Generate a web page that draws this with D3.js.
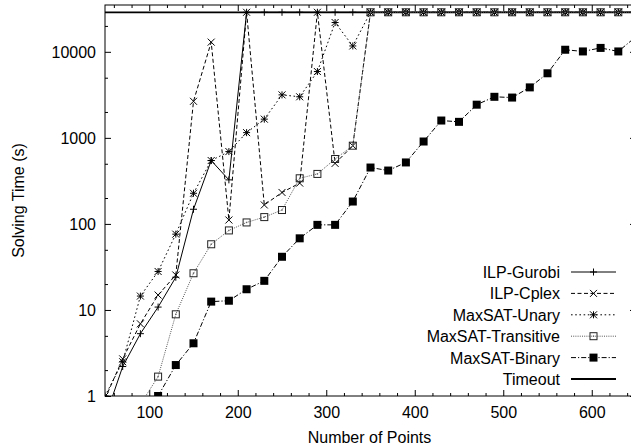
<head>
	<meta charset="utf-8">
	<script src="https://cdn.jsdelivr.net/npm/d3@7"></script>
	<style>
		body { margin: 0; background: #fff; }
		text { font-family: "Liberation Sans", Arial, Helvetica, sans-serif; font-size: 16px; fill: #000; }
	</style>
</head>
<body>
	<div id="main_div"></div>
	<script>
	// values, seconds; T = timeout (8h)
	var T = 28800;
	var points = [50,70,90,110,130,150,170,190,210,230,250,270,290,310,330,350,370,390,410,430,450,470,490,510,530,550,570,590,610,630,650];
	var gurobi = [0.55,2.2,5.3,10.8,24,148,545,325,T,T,T,T,T,T,T,T,T,T,T,T,T,T,T,T,T,T,T,T,T,T,T];
	var cplex = [0.93,2.7,6.9,14.9,25.5,2660,12960,111,T,166,232,298,T,505,811,T,T,T,T,T,T,T,T,T,T,T,T,T,T,T,T];
	var unary = [1.0,2.5,14.5,28,76,227,545,693,1150,1650,3160,3000,5900,21900,11700,T,T,T,T,T,T,T,T,T,T,T,T,T,T,T,T];
	var transitive = [null,null,0.8,1.68,8.9,26.7,58,84,104,120,145,339,381,568,811,T,T,T,T,T,T,T,T,T,T,T,T,T,T,T,T];
	var binary = [null,null,null,1.0,2.29,4.1,12.5,12.8,17.4,21.8,41.5,68,97.5,97.5,182,452,417,518,907,1590,1535,2430,3000,2940,3860,5630,10570,10100,11100,10100,15000];
	var xTicks = [100,200,300,400,500,600];
	var yTicks = [1,10,100,1000,10000];
	var yMinor = [2,5,20,50,200,500,2000,5000,20000];

	var series = [
		{name: "ILP-Gurobi", values: gurobi, dash: null, marker: "plus", color: "#000"},
		{name: "ILP-Cplex", values: cplex, dash: "4,2.5", marker: "cross", color: "#000"},
		{name: "MaxSAT-Unary", values: unary, dash: "1.6,2.6", marker: "star", color: "#000"},
		{name: "MaxSAT-Transitive", values: transitive, dash: "1,1.2", marker: "box", color: "#555"},
		{name: "MaxSAT-Binary", values: binary, dash: "5,2,1.2,2", marker: "fbox", color: "#000"}
	];

	var W = 631, H = 446;
	var pL = 105, pR = 636, pT = 5, pB = 396;

	var x = d3.scaleLinear().domain([50, 650]).range([pL, pR]);
	var y = d3.scaleLog().domain([1, 35000]).range([pB, pT]);

	var svg = d3.select("#main_div").append("svg")
		.attr("width", W)
		.attr("height", H)
		.style("display", "block");

	svg.append("clipPath").attr("id", "clip")
		.append("rect")
		.attr("x", pL).attr("y", pT)
		.attr("width", pR - pL).attr("height", pB - pT);

	// axes, ticks pointing inward on all four sides
	function tickAxis(axis, tr, vals, size, labels) {
		var g = svg.append("g")
			.attr("transform", tr)
			.call(axis.tickValues(vals).tickSize(-size).tickSizeOuter(0)
				.tickFormat(labels ? d3.format("d") : ""));
		g.select(".domain").remove();
		g.selectAll("line").attr("stroke", "#000");
		g.selectAll("text").style("font-size", "16px").attr("fill", "#000");
		return g;
	}
	var minorX = [];
	for (var i = 60; i <= 640; i += 20) if (i % 100 != 0) minorX.push(i);

	var gx = tickAxis(d3.axisBottom(x), "translate(0," + pB + ")", xTicks, 6, true);
	gx.selectAll("text").attr("y", 22).attr("dy", 0);
	tickAxis(d3.axisBottom(x), "translate(0," + pB + ")", minorX, 3, false);
	tickAxis(d3.axisTop(x), "translate(0," + pT + ")", xTicks, 6, false);
	tickAxis(d3.axisTop(x), "translate(0," + pT + ")", minorX, 3, false);

	var gy = tickAxis(d3.axisLeft(y), "translate(" + pL + ",0)", yTicks, 6, true);
	gy.selectAll("text").attr("x", -9).attr("dy", "0.36em");
	tickAxis(d3.axisLeft(y), "translate(" + pL + ",0)", yMinor, 3, false);
	tickAxis(d3.axisRight(y), "translate(" + pR + ",0)", yTicks, 6, false);
	tickAxis(d3.axisRight(y), "translate(" + pR + ",0)", yMinor, 3, false);

	svg.append("rect")
		.attr("x", pL).attr("y", pT)
		.attr("width", pR - pL).attr("height", pB - pT)
		.attr("fill", "none").attr("stroke", "#000").attr("stroke-width", 1);

	svg.append("text")
		.attr("x", (pL + pR) / 2 - 1).attr("y", 443)
		.attr("text-anchor", "middle")
		.text("Number of Points");

	svg.append("text")
		.attr("transform", "translate(24," + ((pT + pB) / 2) + ") rotate(-90)")
		.attr("text-anchor", "middle")
		.text("Solving Time (s)");

	function drawMarker(g, type, cx, cy, color) {
		var s = 3.5;
		if (type == "plus" || type == "star") {
			g.append("path").attr("d", "M" + (cx - s) + "," + cy + "H" + (cx + s) + "M" + cx + "," + (cy - s) + "V" + (cy + s))
				.attr("stroke", color).attr("stroke-width", 1).attr("fill", "none");
		}
		if (type == "cross" || type == "star") {
			g.append("path").attr("d", "M" + (cx - s) + "," + (cy - s) + "L" + (cx + s) + "," + (cy + s) + "M" + (cx - s) + "," + (cy + s) + "L" + (cx + s) + "," + (cy - s))
				.attr("stroke", color).attr("stroke-width", 1).attr("fill", "none");
		}
		if (type == "box") {
			g.append("rect").attr("x", cx - s).attr("y", cy - s).attr("width", 2 * s).attr("height", 2 * s)
				.attr("fill", "none").attr("stroke", "#222").attr("stroke-width", 1);
			g.append("rect").attr("x", cx - 0.7).attr("y", cy - 0.7).attr("width", 1.4).attr("height", 1.4)
				.attr("fill", "#666");
		}
		if (type == "fbox") {
			g.append("rect").attr("x", cx - 4).attr("y", cy - 4).attr("width", 8).attr("height", 8)
				.attr("fill", "#000");
		}
	}

	var plot = svg.append("g").attr("clip-path", "url(#clip)");

	// timeout line
	plot.append("line")
		.attr("x1", pL).attr("x2", pR)
		.attr("y1", y(T)).attr("y2", y(T))
		.attr("stroke", "#000").attr("stroke-width", 1.8);

	series.forEach(function(s) {
		var data = points.map(function(p, i) { return {x: p, v: s.values[i]}; });
		var line = d3.line()
			.defined(function(d) { return d.v != null; })
			.x(function(d) { return x(d.x); })
			.y(function(d) { return y(d.v); });
		plot.append("path")
			.datum(data)
			.attr("d", line)
			.attr("fill", "none")
			.attr("stroke", s.color)
			.attr("stroke-width", 1)
			.attr("stroke-dasharray", s.dash);
		var mg = plot.append("g");
		data.forEach(function(d) {
			if (d.v == null || d.v < 1) return;
			drawMarker(mg, s.marker, x(d.x), y(d.v), "#000");
		});
	});

	// legend
	var legY0 = 272, legStep = 21.4;
	var leg = series.concat([{name: "Timeout", dash: null, marker: null, color: "#000", width: 1.8}]);
	leg.forEach(function(s, i) {
		var ly = legY0 + i * legStep;
		svg.append("text")
			.attr("x", 560).attr("y", ly + 6)
			.attr("text-anchor", "end")
			.text(s.name);
		svg.append("line")
			.attr("x1", 571).attr("x2", 616)
			.attr("y1", ly).attr("y2", ly)
			.attr("stroke", s.color)
			.attr("stroke-width", s.width || 1)
			.attr("stroke-dasharray", s.dash);
		if (s.marker) drawMarker(svg, s.marker, 593.5, ly, "#000");
	});
	</script>
</body>
